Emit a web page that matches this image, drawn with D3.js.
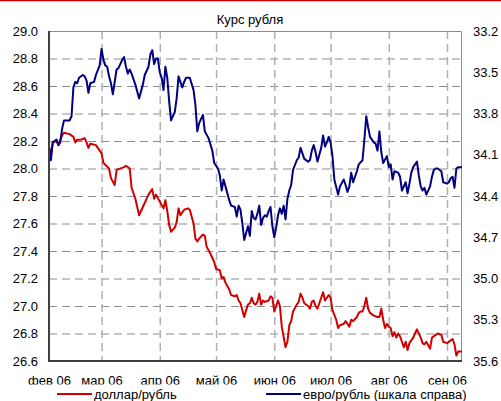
<!DOCTYPE html>
<html>
<head>
<meta charset="utf-8">
<script src="https://cdn.jsdelivr.net/npm/d3@7"></script>
<style>
  body { margin: 0; background: #fff; }
  svg { display: block; font-family: "Liberation Sans", Arial, sans-serif; }
</style>
</head>
<body>
<svg id="chart"></svg>
<script>
// data (dates are 2006, "MM-DD")
const monthLabels = ['фев 06', 'мар 06', 'апр 06', 'май 06', 'июн 06', 'июл 06', 'авг 06', 'сен 06'];
const leftTicks = [26.6, 26.8, 27.0, 27.2, 27.4, 27.6, 27.8, 28.0, 28.2, 28.4, 28.6, 28.8, 29.0];
const rightTicks = [33.2, 33.5, 33.8, 34.1, 34.4, 34.7, 35.0, 35.3, 35.6];

const usdDates = ['02-01','02-02','02-03','02-05','02-06','02-07','02-08','02-09','02-12','02-14','02-15','02-16','02-18','02-20','02-21','02-22','02-23','02-26','02-28',
  '03-01','03-02','03-05','03-06','03-08','03-09','03-13','03-14','03-16','03-17','03-19','03-21','03-23','03-26','03-28','03-29','03-30',
  '04-01','04-03','04-04','04-05','04-06','04-07','04-09','04-10','04-11','04-12','04-14','04-16','04-17','04-19','04-20','04-21','04-22','04-24','04-25','04-26','04-28','04-30',
  '05-01','05-03','05-04','05-05','05-06','05-08','05-09','05-11','05-12','05-13','05-14','05-16','05-17','05-18','05-19','05-20','05-21','05-22','05-23','05-24','05-25','05-26','05-27','05-29','05-30','05-31',
  '06-01','06-03','06-04','06-05','06-07','06-08','06-09','06-10','06-11','06-13','06-14','06-15','06-16','06-17','06-19','06-20','06-21','06-22','06-23','06-24','06-25','06-26','06-27','06-28','06-29','06-30',
  '07-01','07-02','07-04','07-05','07-06','07-08','07-09','07-10','07-11','07-12','07-13','07-15','07-16','07-17','07-18','07-19','07-20','07-21','07-22','07-24','07-26','07-27','07-28','07-29','07-30','07-31',
  '08-01','08-02','08-03','08-04','08-05','08-06','08-07','08-09','08-10','08-11','08-12','08-14','08-15','08-16','08-18','08-19','08-20','08-21','08-23','08-24','08-26','08-27','08-29','08-30',
  '09-01','09-03','09-04','09-05','09-06','09-07','09-09'];
const usdValues = [28.16,28.09,28.19,28.20,28.17,28.21,28.24,28.26,28.25,28.23,28.19,28.21,28.21,28.22,28.19,28.15,28.18,28.17,28.13,
  28.11,28.04,28.00,27.93,27.88,27.99,28.01,28.02,28.00,27.86,27.78,27.66,27.72,27.81,27.85,27.78,27.81,
  27.76,27.71,27.77,27.69,27.59,27.54,27.57,27.61,27.71,27.66,27.70,27.71,27.70,27.60,27.49,27.47,27.49,27.52,27.51,27.43,27.38,27.32,
  27.27,27.26,27.20,27.21,27.17,27.12,27.08,27.07,27.08,27.04,27.02,26.92,26.97,27.01,27.02,27.06,27.02,27.01,27.03,27.09,27.01,27.04,27.03,27.04,27.07,27.06,
  26.96,27.04,27.00,26.85,26.70,26.74,26.86,26.89,26.96,27.01,27.03,27.09,27.06,27.02,27.00,26.98,27.03,27.04,27.00,26.98,27.02,27.06,27.10,27.04,27.06,27.08,
  27.06,26.97,26.90,26.84,26.86,26.87,26.89,26.87,26.85,26.90,26.89,26.92,26.95,26.96,26.96,27.00,27.06,26.98,26.95,26.93,26.92,26.92,26.98,26.90,26.84,26.87,
  26.85,26.84,26.78,26.81,26.77,26.80,26.78,26.70,26.74,26.68,26.73,26.77,26.80,26.83,26.77,26.73,26.72,26.74,26.69,26.77,26.79,26.80,26.79,26.74,
  26.73,26.75,26.76,26.72,26.64,26.67,26.67];

const eurDates = ['02-01','02-02','02-03','02-05','02-06','02-07','02-08','02-09','02-10','02-12','02-13','02-14','02-15','02-16','02-17','02-19','02-20','02-21','02-22','02-23','02-25','02-26','02-28',
  '03-01','03-02','03-03','03-04','03-05','03-06','03-07','03-09','03-10','03-12','03-13','03-14','03-15','03-16','03-17','03-19','03-21','03-23','03-24','03-26','03-27','03-28','03-29','03-30','03-31',
  '04-01','04-02','04-03','04-04','04-05','04-06','04-07','04-09','04-10','04-11','04-13','04-14','04-15','04-17','04-19','04-20','04-21','04-22','04-24','04-25','04-27','04-29','04-30',
  '05-02','05-03','05-04','05-05','05-06','05-08','05-09','05-11','05-12','05-13','05-14','05-15','05-16','05-18','05-19','05-20','05-21','05-22','05-23','05-24','05-25','05-26','05-27','05-28','05-29','05-30','05-31',
  '06-01','06-02','06-03','06-04','06-05','06-06','06-07','06-08','06-09','06-10','06-11','06-13','06-14','06-15','06-16','06-17','06-19','06-20','06-21','06-22','06-23','06-24','06-25','06-26','06-27','06-28','06-29','06-30',
  '07-01','07-02','07-03','07-05','07-06','07-08','07-09','07-10','07-11','07-12','07-13','07-15','07-16','07-18','07-19','07-20','07-21','07-22','07-24','07-25','07-26','07-27','07-28','07-29','07-31',
  '08-01','08-02','08-03','08-04','08-06','08-07','08-08','08-10','08-11','08-12','08-13','08-14','08-16','08-17','08-18','08-19','08-20','08-21','08-23','08-24','08-25','08-26','08-27','08-29','08-30',
  '09-01','09-02','09-03','09-04','09-05','09-06','09-07','09-09'];
const eurValues = [34.04,34.14,34.01,33.99,34.03,34.01,33.91,33.85,33.85,33.85,33.82,33.61,33.57,33.58,33.54,33.52,33.53,33.56,33.65,33.58,33.57,33.52,33.45,
  33.33,33.41,33.45,33.46,33.53,33.58,33.66,33.48,33.47,33.41,33.39,33.46,33.51,33.48,33.51,33.59,33.69,33.59,33.52,33.46,33.37,33.34,33.44,33.40,33.40,
  33.50,33.54,33.63,33.46,33.54,33.71,33.85,33.79,33.69,33.53,33.61,33.57,33.54,33.54,33.63,33.74,33.93,33.87,33.81,33.93,33.98,34.07,34.16,
  34.20,34.25,34.36,34.28,34.33,34.43,34.47,34.48,34.55,34.47,34.50,34.60,34.72,34.62,34.69,34.51,34.56,34.57,34.53,34.47,34.61,34.56,34.54,34.55,34.51,34.48,34.62,
  34.70,34.63,34.54,34.49,34.53,34.47,34.57,34.42,34.36,34.32,34.21,34.14,34.12,34.05,34.09,34.13,34.15,34.14,34.07,34.03,34.08,34.15,34.10,34.05,33.96,34.04,34.01,33.97,
  34.01,34.11,34.28,34.39,34.33,34.28,34.32,34.37,34.33,34.23,34.30,34.22,34.17,34.14,33.99,33.82,33.90,33.97,34.01,34.02,34.07,33.93,34.08,34.16,34.11,
  34.19,34.17,34.28,34.22,34.23,34.26,34.36,34.30,34.38,34.31,34.23,34.19,34.15,34.25,34.33,34.36,34.34,34.39,34.33,34.26,34.21,34.20,34.20,34.22,34.30,
  34.31,34.30,34.27,34.26,34.34,34.20,34.19,34.19];

const parseDate = d3.timeParse('%Y-%m-%d');
const toDate = (s) => parseDate('2006-' + s);

const drawGraph = () => {
  // dimensions
  const width = 501;
  const height = 401;
  const left = 49, right = 462, top = 31, bottom = 361;

  const svg = d3.select('#chart')
    .attr('width', width)
    .attr('height', height);

  svg.append('rect').attr('width', width).attr('height', height).attr('fill', '#fff');

  // red rule at the very top
  svg.append('line')
    .attr('x1', 0).attr('x2', width).attr('y1', 0.6).attr('y2', 0.6)
    .attr('stroke', '#d00000').attr('stroke-width', 1.4);

  // scales
  const xScale = d3.scaleTime()
    .domain([toDate('02-01'), toDate('09-09')])
    .range([left, right]);
  const yLeft = d3.scaleLinear().domain([26.6, 29.0]).range([bottom, top]);
  const yRight = d3.scaleLinear().domain([33.2, 35.6]).range([top, bottom]);

  const months = d3.timeMonth.range(toDate('02-01'), toDate('09-02'));

  // horizontal grid
  svg.append('g')
    .attr('transform', `translate(${left},0)`)
    .call(d3.axisLeft(yLeft).tickValues(leftTicks.slice(1, -1)).tickSize(-(right - left)).tickFormat(''))
    .call(g => g.select('.domain').remove())
    .selectAll('line')
    .attr('stroke', '#8c8c8c')
    .attr('stroke-dasharray', '8,5');

  // vertical grid (month starts)
  svg.append('g')
    .attr('transform', `translate(0,${top})`)
    .call(d3.axisBottom(xScale).tickValues(months.slice(1)).tickSize(bottom - top).tickFormat(''))
    .call(g => g.select('.domain').remove())
    .selectAll('line')
    .attr('stroke', '#b0b0b0')
    .attr('stroke-width', 1.5)
    .attr('stroke-dasharray', '8,5');

  // frame: light top/right, dark left/bottom
  svg.append('path')
    .attr('d', `M${left},${top + 0.5}H${right - 0.5}V${bottom}`)
    .attr('fill', 'none').attr('stroke', '#8c8c8c').attr('stroke-width', 1);

  // lines
  const usd = usdDates.map((d, i) => [toDate(d), usdValues[i]]);
  const eur = eurDates.map((d, i) => [toDate(d), eurValues[i]]);

  const usdLine = d3.line().x(d => xScale(d[0])).y(d => yLeft(d[1]));
  const eurLine = d3.line().x(d => xScale(d[0])).y(d => yRight(d[1]));

  svg.append('path').datum(usd)
    .attr('d', usdLine)
    .attr('fill', 'none').attr('stroke', '#d00000').attr('stroke-width', 2)
    .attr('stroke-linejoin', 'round');

  svg.append('path').datum(eur)
    .attr('d', eurLine)
    .attr('fill', 'none').attr('stroke', '#000080').attr('stroke-width', 2)
    .attr('stroke-linejoin', 'round');

  svg.append('path')
    .attr('d', `M${left},${top}V${bottom}H${right}`)
    .attr('fill', 'none').attr('stroke', '#404040').attr('stroke-width', 2);

  // axes
  svg.append('g')
    .attr('id', 'y-axis')
    .attr('transform', `translate(${left - 11},0)`)
    .call(d3.axisLeft(yLeft).tickValues(leftTicks).tickSize(0).tickFormat(d3.format('.1f')))
    .call(g => g.select('.domain').remove())
    .selectAll('text')
    .attr('x', 0)
    .style('font-size', '13px')
    .attr('fill', '#000');

  svg.append('g')
    .attr('id', 'y-axis-right')
    .attr('transform', `translate(${right + 11},0)`)
    .call(d3.axisRight(yRight).tickValues(rightTicks).tickSize(0).tickFormat(d3.format('.1f')))
    .call(g => g.select('.domain').remove())
    .selectAll('text')
    .attr('x', 0)
    .style('font-size', '13px')
    .attr('fill', '#000');

  // month labels, bottom of the glyphs cut off as in the original
  svg.append('clipPath').attr('id', 'xclip')
    .append('rect').attr('x', 0).attr('y', bottom).attr('width', width).attr('height', 384.5 - bottom);

  svg.append('g')
    .attr('clip-path', 'url(#xclip)')
    .append('g')
    .attr('id', 'x-axis')
    .attr('transform', `translate(0,${bottom})`)
    .call(d3.axisBottom(xScale).tickValues(months).tickSize(0).tickFormat((d, i) => monthLabels[i]))
    .call(g => g.select('.domain').remove())
    .selectAll('text')
    .attr('y', 15)
    .attr('dy', '0.71em')
    .style('font-size', '13px')
    .attr('fill', '#000');

  // title
  svg.append('text')
    .attr('x', 250).attr('y', 24)
    .attr('text-anchor', 'middle')
    .style('font-size', '13px')
    .text('Курс рубля');

  // legend
  const legend = [
    { label: 'доллар/рубль', color: '#d00000', x: 57 },
    { label: 'евро/рубль (шкала справа)', color: '#000080', x: 266 }
  ];
  const lg = svg.selectAll('.legend').data(legend).enter().append('g').attr('class', 'legend');
  lg.append('line')
    .attr('x1', d => d.x).attr('x2', d => d.x + 35)
    .attr('y1', 394).attr('y2', 394)
    .attr('stroke', d => d.color).attr('stroke-width', 2);
  lg.append('text')
    .attr('x', d => d.x + 37).attr('y', 398.5)
    .style('font-size', '13px')
    .text(d => d.label);
};

drawGraph();
</script>
</body>
</html>
